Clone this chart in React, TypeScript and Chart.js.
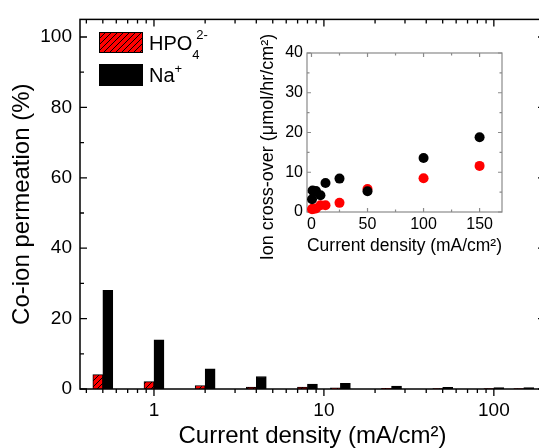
import React, { useEffect, useRef } from 'react';
import { Chart, registerables } from 'chart.js';

Chart.register(...registerables);

// ---- data ----
const currentDensity = [0.5, 1, 2, 4, 8, 12.5, 25, 50, 100, 150];
const hpo4Permeation = [4.1, 2.1, 1.0, 0.55, 0.55, 0.35, 0.2, 0.15, 0.12, 0.12];
const naPermeation = [28.0, 14.0, 5.7, 3.55, 1.4, 1.6, 0.85, 0.45, 0.4, 0.4];
const naCrossover = [3.2, 5.4, 5.1, 5.3, 4.2, 7.3, 8.4, 5.2, 13.6, 18.8];
const hpo4Crossover = [0.7, 0.8, 0.8, 0.9, 1.7, 1.7, 2.3, 5.8, 8.5, 11.6];

const mainXLabels = [1, 10, 100];
const mainXMinor = [0.4, 0.5, 0.6, 0.7, 0.8, 0.9, 2, 3, 4, 5, 6, 7, 8, 9, 20, 30, 40, 50, 60, 70, 80, 90, 200];
const mainYLabels = [0, 20, 40, 60, 80, 100];
const mainYMinor = [10, 30, 50, 70, 90];
const insetXLabels = [0, 50, 100, 150];
const insetXMinor = [25, 75, 125];
const insetYLabels = [0, 10, 20, 30, 40];
const insetYMinor = [5, 15, 25, 35];

const FONT = "'Liberation Sans', Arial, Helvetica, sans-serif";

function makeHatch(): CanvasPattern | string {
  const c = document.createElement('canvas');
  c.width = 6;
  c.height = 6;
  const g = c.getContext('2d');
  if (!g) return '#ff0000';
  g.fillStyle = '#ff0000';
  g.fillRect(0, 0, 6, 6);
  g.strokeStyle = '#000';
  g.lineWidth = 1;
  g.beginPath();
  g.moveTo(-1, 7); g.lineTo(7, -1);
  g.moveTo(-1, 1); g.lineTo(1, -1);
  g.moveTo(5, 7); g.lineTo(7, 5);
  g.stroke();
  return g.createPattern(c, 'repeat') || '#ff0000';
}

export default function App() {
  const mainRef = useRef<HTMLCanvasElement>(null);
  const insetRef = useRef<HTMLCanvasElement>(null);

  useEffect(() => {
    const hatch = makeHatch();

    const mainDecor = {
      id: 'mainDecor',
      afterDatasetsDraw(chart: any) {
        const { ctx, chartArea: a, scales } = chart;
        const xs = scales.x, ys = scales.y;
        ctx.save();
        ctx.strokeStyle = '#000';
        ctx.lineWidth = 1.5;
        ctx.strokeRect(a.left, a.top, a.right - a.left, a.bottom - a.top);
        ctx.lineWidth = 1.3;
        ctx.beginPath();
        const yt = (v: number, len: number) => {
          const p = ys.getPixelForValue(v);
          ctx.moveTo(a.left, p); ctx.lineTo(a.left + len, p);
          ctx.moveTo(a.right, p); ctx.lineTo(a.right - len, p);
        };
        mainYLabels.forEach((v) => yt(v, 7));
        mainYMinor.forEach((v) => yt(v, 4));
        const xt = (v: number, len: number) => {
          const p = xs.getPixelForValue(v);
          ctx.moveTo(p, a.bottom); ctx.lineTo(p, a.bottom + len);
          ctx.moveTo(p, a.top); ctx.lineTo(p, a.top + len);
        };
        mainXLabels.forEach((v) => xt(v, 7));
        mainXMinor.forEach((v) => xt(v, 4));
        ctx.stroke();

        // legend
        ctx.lineWidth = 1;
        ctx.fillStyle = hatch as any;
        ctx.fillRect(99, 32, 44, 21);
        ctx.strokeRect(99.5, 32.5, 43, 20);
        ctx.fillStyle = '#000';
        ctx.fillRect(99, 64, 44, 22);
        ctx.textAlign = 'left';
        ctx.textBaseline = 'alphabetic';
        ctx.font = `20px ${FONT}`;
        ctx.fillText('HPO', 149, 50);
        const w1 = ctx.measureText('HPO').width;
        ctx.font = `13px ${FONT}`;
        ctx.fillText('4', 149 + w1, 59);
        ctx.fillText('2-', 149 + w1 + 4, 39);
        ctx.font = `20px ${FONT}`;
        ctx.fillText('Na', 149, 82);
        const w2 = ctx.measureText('Na').width;
        ctx.font = `13px ${FONT}`;
        ctx.fillText('+', 149 + w2, 73);
        ctx.restore();
      },
    };

    const main = new Chart(mainRef.current as HTMLCanvasElement, {
      type: 'bar',
      data: {
        datasets: [
          {
            label: 'HPO4 2-',
            data: currentDensity.map((x, i) => ({ x, y: hpo4Permeation[i] })),
            backgroundColor: hatch as any,
            borderColor: '#000',
            borderWidth: 1,
            barThickness: 10,
          },
          {
            label: 'Na+',
            data: currentDensity.map((x, i) => ({ x, y: naPermeation[i] })),
            backgroundColor: '#000',
            borderColor: '#000',
            borderWidth: 1,
            barThickness: 10,
          },
        ],
      } as any,
      options: {
        responsive: false,
        animation: false,
        devicePixelRatio: 1,
        layout: { padding: { top: 14, right: 7, left: 0, bottom: 0 } },
        plugins: { legend: { display: false }, tooltip: { enabled: false } },
        scales: {
          x: {
            type: 'logarithmic',
            min: 0.367,
            max: 200,
            offset: false,
            grid: { display: false, drawTicks: false },
            border: { display: false },
            afterBuildTicks: (s: any) => { s.ticks = mainXLabels.map((v) => ({ value: v })); },
            afterFit: (s: any) => { s.height = 59; },
            ticks: {
              autoSkip: false, maxRotation: 0, minRotation: 0, padding: 10, color: '#000',
              font: { family: FONT, size: 19 },
              callback: (v: any) => String(v),
            },
            title: {
              display: true, text: 'Current density (mA/cm²)', color: '#000',
              font: { family: FONT, size: 24, lineHeight: 1 }, padding: { top: 0, bottom: 0 },
            },
          },
          y: {
            type: 'linear',
            min: 0,
            max: 105,
            grid: { display: false, drawTicks: false },
            border: { display: false },
            afterBuildTicks: (s: any) => { s.ticks = mainYLabels.map((v) => ({ value: v })); },
            afterFit: (s: any) => { s.width = 80; },
            ticks: { padding: 8, color: '#000', font: { family: FONT, size: 19 } },
            title: {
              display: true, text: 'Co-ion permeation (%)', color: '#000',
              font: { family: FONT, size: 24, lineHeight: 1 }, padding: { top: 10, bottom: 0 },
            },
          },
        },
      } as any,
      plugins: [mainDecor],
    });

    const insetDecor = {
      id: 'insetDecor',
      beforeDatasetsDraw(chart: any) {
        const { ctx, chartArea: a, scales } = chart;
        const xs = scales.x, ys = scales.y;
        ctx.save();
        ctx.strokeStyle = '#8a8a8a';
        ctx.lineWidth = 1.2;
        ctx.strokeRect(a.left, a.top, a.right - a.left, a.bottom - a.top);
        ctx.beginPath();
        const yt = (v: number, len: number) => {
          const p = ys.getPixelForValue(v);
          ctx.moveTo(a.left, p); ctx.lineTo(a.left + len, p);
          ctx.moveTo(a.right, p); ctx.lineTo(a.right - len, p);
        };
        insetYLabels.forEach((v) => yt(v, 4));
        insetYMinor.forEach((v) => yt(v, 2.5));
        const xt = (v: number, len: number) => {
          const p = xs.getPixelForValue(v);
          ctx.moveTo(p, a.bottom); ctx.lineTo(p, a.bottom - len);
          ctx.moveTo(p, a.top); ctx.lineTo(p, a.top + len);
        };
        insetXLabels.forEach((v) => xt(v, 4));
        insetXMinor.forEach((v) => xt(v, 2.5));
        ctx.stroke();
        ctx.restore();
      },
      afterDraw(chart: any) {
        const { ctx } = chart;
        ctx.save();
        ctx.translate(28, 127);
        ctx.rotate(-Math.PI / 2);
        ctx.fillStyle = '#000';
        ctx.font = `18px ${FONT}`;
        ctx.textAlign = 'center';
        ctx.textBaseline = 'middle';
        ctx.fillText('Ion cross-over (μmol/hr/cm²)', 0, 0);
        ctx.restore();
      },
    };

    const inset = new Chart(insetRef.current as HTMLCanvasElement, {
      type: 'scatter',
      data: {
        datasets: [
          {
            label: 'Na+',
            data: currentDensity.map((x, i) => ({ x, y: naCrossover[i] })),
            backgroundColor: '#000',
            borderWidth: 0,
            pointRadius: 5,
            clip: false,
          },
          {
            label: 'HPO4 2-',
            data: currentDensity.map((x, i) => ({ x, y: hpo4Crossover[i] })),
            backgroundColor: '#ff0000',
            borderWidth: 0,
            pointRadius: 5,
            clip: false,
          },
        ],
      } as any,
      options: {
        responsive: false,
        animation: false,
        devicePixelRatio: 1,
        layout: { padding: { top: 33, right: 8, left: 0, bottom: 0 } },
        plugins: { legend: { display: false }, tooltip: { enabled: false } },
        scales: {
          x: {
            type: 'linear',
            min: -4,
            max: 170,
            grid: { display: false, drawTicks: false },
            border: { display: false },
            afterBuildTicks: (s: any) => { s.ticks = insetXLabels.map((v) => ({ value: v })); },
            afterFit: (s: any) => { s.height = 48; },
            ticks: { autoSkip: false, maxRotation: 0, padding: 3, color: '#000', font: { family: FONT, size: 16 } },
            title: {
              display: true, text: 'Current density (mA/cm²)', color: '#000',
              font: { family: FONT, size: 18, lineHeight: 1 }, padding: { top: 0, bottom: 5 },
            },
          },
          y: {
            type: 'linear',
            min: 0,
            max: 40,
            grid: { display: false, drawTicks: false },
            border: { display: false },
            afterBuildTicks: (s: any) => { s.ticks = insetYLabels.map((v) => ({ value: v })); },
            afterFit: (s: any) => { s.width = 67; },
            ticks: { padding: 4, color: '#000', font: { family: FONT, size: 16 } },
          },
        },
      } as any,
      plugins: [insetDecor],
    });

    return () => {
      main.destroy();
      inset.destroy();
    };
  }, []);

  return (
    <div style={{ position: 'fixed', left: 0, top: 0, width: 539, height: 448, overflow: 'hidden', background: '#fff' }}>
      <canvas ref={mainRef} width={552} height={448} style={{ position: 'absolute', left: 0, top: 0, width: 552, height: 448 }} />
      <canvas ref={insetRef} width={270} height={240} style={{ position: 'absolute', left: 240, top: 20, width: 270, height: 240 }} />
    </div>
  );
}
